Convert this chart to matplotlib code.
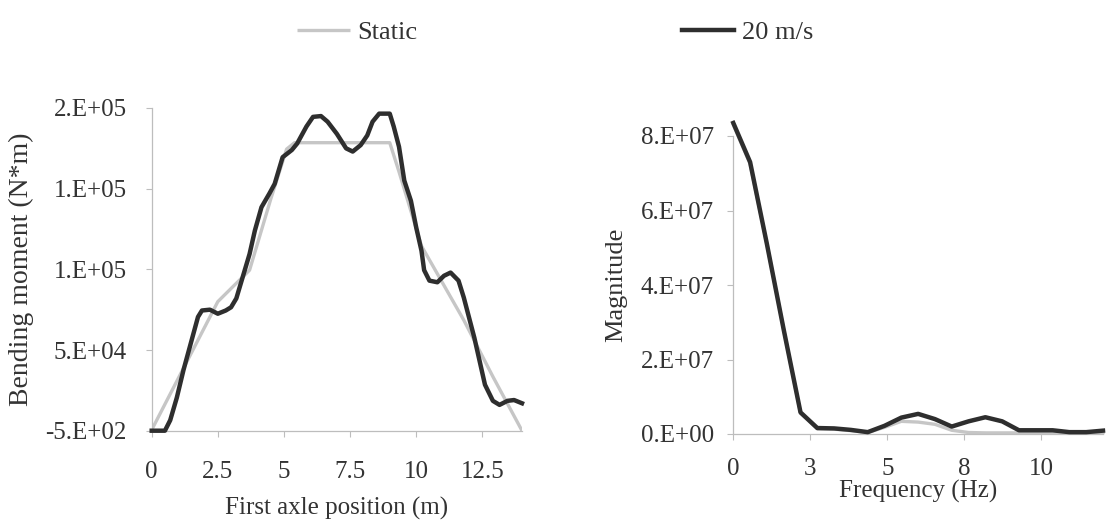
import matplotlib
matplotlib.use("Agg")
import matplotlib.pyplot as plt

plt.rcParams['font.family'] = ['Liberation Serif', 'DejaVu Serif']

# ---- Bending moment vs first axle position ----
static_pos = [0, 2.5, 3.7, 4.5, 5.1, 5.4, 9.0, 9.35, 10.2, 11.0, 11.8, 12.9, 14.0]
static_moment = [0, 79500, 99000, 143000, 174000, 178000, 178000, 160000,
                 114000, 91000, 68000, 33000, -500]

dyn_pos = [0, 0.5, 0.7, 0.95, 1.2, 1.5, 1.75, 1.9, 2.2, 2.5, 2.8, 3.0, 3.2,
           3.4, 3.7, 3.9, 4.15, 4.45, 4.65, 4.95, 5.3, 5.5, 5.85, 6.1, 6.4,
           6.65, 7.0, 7.35, 7.6, 7.9, 8.15, 8.35, 8.6, 9.0, 9.15, 9.35, 9.55,
           9.8, 10.0, 10.2, 10.3, 10.5, 10.8, 11.05, 11.3, 11.6, 11.8, 12.0,
           12.2, 12.4, 12.6, 12.9, 13.15, 13.45, 13.7, 14.0]
dyn_moment = [-500, -500, 6000, 20000, 37000, 55000, 70000, 74000, 74500, 72000,
              74000, 76000, 81500, 92500, 109000, 123500, 138000, 146500,
              152500, 169000, 173500, 177500, 188000, 194000, 194500, 191000,
              183500, 174500, 172500, 176500, 182500, 191000, 196000, 196000,
              188000, 175500, 154500, 142000, 125500, 111000, 99000, 92500,
              91500, 95500, 97500, 92500, 82000, 69500, 57000, 42500, 28000,
              18000, 15500, 18000, 18500, 16500]

pos_ticks = [0, 2.5, 5, 7.5, 10, 12.5]
pos_ticklabels = ['0', '2.5', '5', '7.5', '10', '12.5']
moment_ticks = [-500, 49500, 99500, 149500, 199500]
moment_ticklabels = ['-5.E+02', '5.E+04', '1.E+05', '1.E+05', '2.E+05']

# ---- Frequency spectrum ----
freq = [i * 12 / 22 for i in range(23)]
static_mag = [8.3e7, 7.25e7, 5.1e7, 2.8e7, 5.6e6, 1.4e6, 1.3e6, 0.9e6, 0.4e6,
              1.8e6, 3.4e6, 3.2e6, 2.6e6, 1.0e6, 0.4e6, 0.3e6, 0.3e6, 0.3e6,
              0.3e6, 0.3e6, 0.2e6, 0.2e6, 0.4e6]
dyn_mag = [8.35e7, 7.3e7, 5.1e7, 2.8e7, 5.8e6, 1.6e6, 1.5e6, 1.1e6, 0.5e6,
           2.2e6, 4.4e6, 5.4e6, 4.0e6, 2.0e6, 3.4e6, 4.5e6, 3.4e6, 1.0e6,
           1.0e6, 1.0e6, 0.5e6, 0.5e6, 0.9e6]

freq_ticks = [0, 2.5, 5, 7.5, 10]
freq_ticklabels = ['0', '3', '5', '8', '10']
mag_ticks = [0, 2e7, 4e7, 6e7, 8e7]
mag_ticklabels = ['0.E+00', '2.E+07', '4.E+07', '6.E+07', '8.E+07']

STATIC_COLOR = '#c6c6c6'
DYN_COLOR = '#2e2e2e'
AXIS_COLOR = '#bdbdbd'
TEXT_COLOR = '#333333'

W, H = 1106, 528
fig = plt.figure(figsize=(W / 100, H / 100), dpi=100)
fig.patch.set_facecolor('white')


def style_axes(ax, xpad, ypad):
    for side in ('top', 'right'):
        ax.spines[side].set_visible(False)
    for side in ('left', 'bottom'):
        ax.spines[side].set_color(AXIS_COLOR)
        ax.spines[side].set_linewidth(0.9)
    ax.tick_params(axis='both', direction='out', length=4, width=0.8,
                   color=AXIS_COLOR, labelcolor=TEXT_COLOR, labelsize=18)
    ax.tick_params(axis='x', pad=xpad)
    ax.tick_params(axis='y', pad=ypad)


ax1 = fig.add_axes([151.7 / W, 1 - 430.7 / H, 370.3 / W, (430.7 - 108) / H])
l_static, = ax1.plot(static_pos, static_moment, color=STATIC_COLOR, lw=2.4,
                     solid_capstyle='butt', zorder=2)
l_dyn, = ax1.plot(dyn_pos, dyn_moment, color=DYN_COLOR, lw=3.2,
                  solid_joinstyle='round', zorder=3, clip_on=False)
ax1.set_xlim(0, 14)
ax1.set_ylim(-500, 199500)
ax1.set_xticks(pos_ticks)
ax1.set_xticklabels(pos_ticklabels)
ax1.set_yticks(moment_ticks)
ax1.set_yticklabels(moment_ticklabels)
style_axes(ax1, 18, 14)
ax1.set_xlabel('First axle position (m)', fontsize=18, color=TEXT_COLOR,
               labelpad=10)
ax1.set_ylabel('Bending moment (N*m)', fontsize=20, color=TEXT_COLOR,
               labelpad=8)

ax2 = fig.add_axes([733.3 / W, 1 - 434 / H, 369.7 / W, 298 / H])
ax2.plot(freq, static_mag, color=STATIC_COLOR, lw=2.4, zorder=2, clip_on=False)
ax2.plot(freq, dyn_mag, color=DYN_COLOR, lw=3.2, zorder=3, clip_on=False)
ax2.set_xlim(0, 12)
ax2.set_ylim(0, 8e7)
ax2.set_xticks(freq_ticks)
ax2.set_xticklabels(freq_ticklabels)
ax2.set_yticks(mag_ticks)
ax2.set_yticklabels(mag_ticklabels)
style_axes(ax2, 13, 10)
ax2.set_xlabel('Frequency (Hz)', fontsize=18, color=TEXT_COLOR, labelpad=0)
ax2.set_ylabel('Magnitude', fontsize=19, color=TEXT_COLOR, labelpad=10)

fig.legend([l_static, l_dyn], ['Static', '20 m/s'], loc='center',
           bbox_to_anchor=(0.502, 0.939), ncol=2, frameon=False,
           fontsize=19, handlelength=2.0, handletextpad=0.3,
           columnspacing=10, labelcolor=TEXT_COLOR)

fig.savefig('out.png', dpi=100, facecolor='white')
